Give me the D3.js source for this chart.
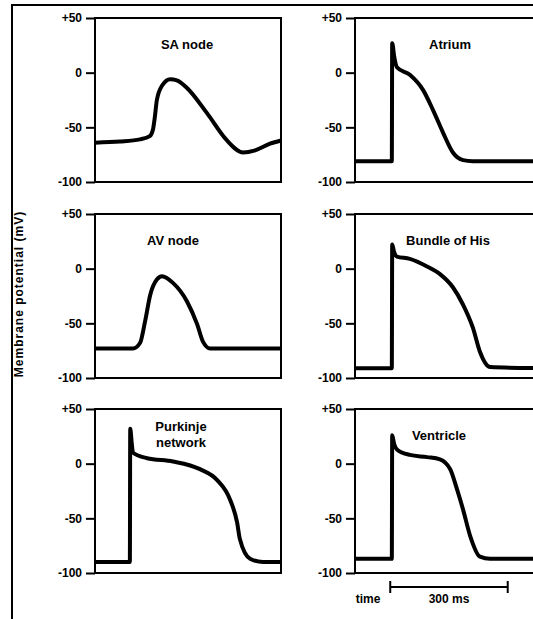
<!DOCTYPE html>
<html>
<head>
<meta charset="utf-8">
<script src="https://cdn.jsdelivr.net/npm/d3@7"></script>
<style>
  body { margin: 0; background: #fff; }
  svg { display: block; font-family: "Liberation Sans", Arial, sans-serif; }
  .tick text { font-weight: bold; font-size: 12px; }
</style>
</head>
<body>
<svg id="chart"></svg>
<script>
// action potentials, time in ms, voltage in mV
var titles = [['SA  node'], ['Atrium'], ['AV node'], ['Bundle of His'], ['Purkinje', 'network'], ['Ventricle']];

var saTime = [0, 64, 115, 140, 148, 153, 158, 171, 192, 209, 235, 286, 337, 378, 409, 447, 475];
var saMv   = [-64, -63, -61, -58, -52, -40, -25, -12, -6, -7, -14, -37, -62, -73, -71, -65, -62];

var atTime = [0, 94, 95, 100, 107, 140, 174, 199, 225, 250, 276, 300, 475];
var atMv   = [-81, -81, 27, 15, 5, -2, -16, -34, -55, -73, -80, -81, -81];

var avTime = [0, 97, 115, 128, 141, 158, 171, 199, 235, 261, 276, 294, 475];
var avMv   = [-73, -73, -68, -48, -24, -10, -7, -13, -30, -51, -67, -73, -73];

var hisTime = [0, 94, 95, 100, 107, 140, 184, 217, 250, 276, 301, 319, 345, 475];
var hisMv   = [-91, -91, 22, 15, 11, 9, 2, -5, -17, -33, -54, -76, -90, -91];

var purTime = [0, 89, 90, 94, 97, 133, 199, 268, 312, 345, 363, 370, 396, 429, 475];
var purMv   = [-90, -90, 32, 18, 10, 5, 2, -5, -15, -33, -54, -69, -87, -90, -90];

var venTime = [0, 94, 95, 100, 107, 140, 184, 217, 243, 261, 276, 294, 319, 345, 475];
var venMv   = [-87, -87, 26, 18, 13, 8, 6, 4, -5, -24, -42, -66, -85, -87, -87];

var yTicks = [50, 0, -50, -100];
var series = [[saTime, saMv], [atTime, atMv], [avTime, avMv], [hisTime, hisMv], [purTime, purMv], [venTime, venMv]];

var w = 533, h = 619;
var colX = [95, 355], rowY = [18, 214, 409];
var pw = 186, ph = 164;
var titleX = [92, 95, 78, 93, 86, 84];

var svg = d3.select('#chart').attr('width', w).attr('height', h);

// outer frame
svg.append('line').attr('x1', 11).attr('x2', w).attr('y1', 5).attr('y2', 5)
   .attr('stroke', '#000').attr('stroke-width', 2);
svg.append('line').attr('x1', 12).attr('x2', 12).attr('y1', 5).attr('y2', h)
   .attr('stroke', '#000').attr('stroke-width', 2);

var x = d3.scaleLinear().domain([0, 475]).range([0, pw]);
var y = d3.scaleLinear().domain([-100, 50]).range([ph, 0]);

var line = d3.line()
             .x(function(d){ return x(d[0]); })
             .y(function(d){ return y(d[1]); })
             .curve(d3.curveMonotoneX);

series.forEach(function(s, i){
  var g = svg.append('g')
             .attr('transform', 'translate(' + colX[i % 2] + ',' + rowY[Math.floor(i / 2)] + ')');

  g.append('rect').attr('width', pw).attr('height', ph)
   .attr('fill', 'none').attr('stroke', '#000').attr('stroke-width', 2);

  var axis = g.append('g')
              .call(d3.axisLeft(y).tickValues(yTicks).tickSize(9).tickSizeOuter(0).tickPadding(4)
                    .tickFormat(function(d){ return d > 0 ? '+' + d : d; }));
  axis.select('.domain').remove();
  axis.selectAll('line').attr('stroke-width', 2);

  var pts = s[0].map(function(t, j){ return [t, s[1][j]]; });
  g.append('path').datum(pts).attr('d', line)
   .attr('fill', 'none').attr('stroke', '#000').attr('stroke-width', 4)
   .attr('stroke-linejoin', 'round');

  var t = g.append('text').attr('font-weight', 'bold').attr('font-size', 13)
           .attr('text-anchor', 'middle')
           .attr('x', titleX[i]).attr('y', i == 4 ? 22 : 31);
  titles[i].forEach(function(txt, k){
    t.append('tspan').attr('x', titleX[i]).attr('dy', k == 0 ? 0 : 16).text(txt);
  });

  if (i == 5) {
    // time scale bar
    var bx0 = x(90), bx1 = x(390), by = ph + 14;
    g.append('line').attr('x1', bx0).attr('x2', bx1).attr('y1', by).attr('y2', by)
     .attr('stroke', '#000').attr('stroke-width', 2);
    [bx0, bx1].forEach(function(bx){
      g.append('line').attr('x1', bx).attr('x2', bx).attr('y1', by - 6).attr('y2', by + 6)
       .attr('stroke', '#000').attr('stroke-width', 2);
    });
    g.append('text').attr('x', (bx0 + bx1) / 2).attr('y', by + 16).attr('text-anchor', 'middle')
     .attr('font-weight', 'bold').attr('font-size', 12).text('300 ms');
    g.append('text').attr('x', 13).attr('y', by + 16).attr('text-anchor', 'middle')
     .attr('font-weight', 'bold').attr('font-size', 12).text('time');
  }
});

svg.append('text')
   .attr('transform', 'translate(23,294) rotate(-90)')
   .attr('text-anchor', 'middle').attr('font-weight', 'bold').attr('font-size', 12)
   .attr('letter-spacing', 1)
   .text('Membrane potential (mV)');
</script>
</body>
</html>
